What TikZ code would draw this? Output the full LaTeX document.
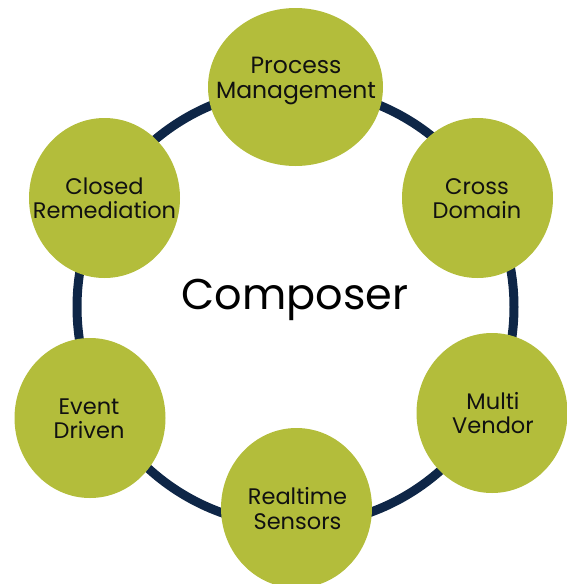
\documentclass[tikz,border=0pt]{standalone}
\usepackage{fontspec}
\setmainfont{Poppins}
\usetikzlibrary{shapes.geometric}
\definecolor{bubfill}{HTML}{B3BD3B}
\definecolor{ringcol}{HTML}{0E2647}
\definecolor{txtcol}{HTML}{111111}
\tikzset{
  bub/.style={ellipse, fill=bubfill, draw=none, minimum width=151pt, minimum height=160pt, inner sep=0pt},
  lbl/.style={align=center, font=\fontsize{22.5}{24.5}\selectfont, text=txtcol, inner sep=0pt},
  ringstyle/.style={circle, draw=ringcol, line width=9pt, minimum size=437pt, inner sep=0pt},
}
\begin{document}
\begin{tikzpicture}[x=1pt,y=-1pt]
\useasboundingbox (0,0) rectangle (566,584);
\node[ringstyle] (ring) at (295.5,307) {};
\node[font=\fontsize{43}{48}\selectfont, text=black, inner sep=0pt] (comp) at (295,299.5) {Composer};
\node[bub, minimum width=175pt, minimum height=158pt] (pm) at (295.5,87) {};
\node[bub] (cd) at (477.5,198) {};
\node[bub] (mv) at (492,413) {};
\node[bub] (rs) at (296.5,508) {};
\node[bub] (ed) at (90,418) {};
\node[bub] (cr) at (104.5,198) {};
\node[lbl, font=\fontsize{23.5}{25}\selectfont] (pmt) at (296,81) {Process\\Management};
\node[lbl] (cdt) at (477,198.5) {Cross\\Domain};
\node[lbl] (mvt) at (493,413) {Multi\\Vendor};
\node[lbl] (rst) at (297.5,508.5) {Realtime\\Sensors};
\node[lbl] (edt) at (89,418.5) {Event\\Driven};
\node[lbl] (crt) at (104.5,198.5) {Closed\\Remediation};
\end{tikzpicture}
\end{document}
